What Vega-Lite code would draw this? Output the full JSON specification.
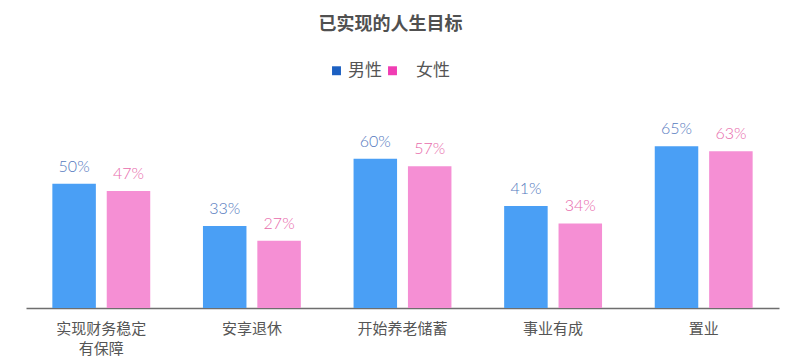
{
  "$schema": "https://vega.github.io/schema/vega-lite/v6.json",
  "autosize": "none",
  "width": 753,
  "height": 199,
  "padding": {"left": 26, "top": 109, "right": 21, "bottom": 51},
  "background": "white",
  "title": {
    "text": "已实现的人生目标",
    "anchor": "middle",
    "offset": 28,
    "dx": -12,
    "fontSize": 18,
    "font": "Noto Sans CJK SC",
    "fontWeight": "bold",
    "color": "#505050"
  },
  "data": {
    "values": [
      {"goal": "实现财务稳定\n有保障", "sex": "男性", "value": 0.50},
      {"goal": "实现财务稳定\n有保障", "sex": "女性", "value": 0.47},
      {"goal": "安享退休", "sex": "男性", "value": 0.33},
      {"goal": "安享退休", "sex": "女性", "value": 0.27},
      {"goal": "开始养老储蓄", "sex": "男性", "value": 0.60},
      {"goal": "开始养老储蓄", "sex": "女性", "value": 0.57},
      {"goal": "事业有成", "sex": "男性", "value": 0.41},
      {"goal": "事业有成", "sex": "女性", "value": 0.34},
      {"goal": "置业", "sex": "男性", "value": 0.65},
      {"goal": "置业", "sex": "女性", "value": 0.63}
    ]
  },
  "encoding": {
    "x": {
      "field": "goal",
      "type": "nominal",
      "sort": null,
      "scale": {"paddingInner": 0.35, "paddingOuter": 0.175},
      "axis": {
        "title": null,
        "labelAngle": 0,
        "ticks": false,
        "domainColor": "#6e6e6e",
        "domainWidth": 1.5,
        "labelFont": "Noto Sans CJK SC",
        "labelFontSize": 15,
        "labelColor": "#555555",
        "labelPadding": 13,
        "labelLineHeight": 20,
        "labelExpr": "split(datum.label, '\\n')"
      }
    },
    "xOffset": {
      "field": "sex",
      "type": "nominal",
      "sort": ["男性", "女性"],
      "scale": {"paddingInner": 0.2}
    },
    "y": {
      "field": "value",
      "type": "quantitative",
      "scale": {"domain": [0, 0.8]},
      "axis": null
    }
  },
  "layer": [
    {
      "mark": {"type": "bar"},
      "encoding": {
        "color": {
          "field": "sex",
          "type": "nominal",
          "sort": ["男性", "女性"],
          "scale": {"domain": ["男性", "女性"], "range": ["#4a9ff5", "#f58fd4"]},
          "legend": null
        }
      }
    },
    {
      "mark": {"type": "bar"},
      "encoding": {
        "y": {"datum": 0},
        "color": {
          "field": "sex",
          "type": "nominal",
          "sort": ["男性", "女性"],
          "scale": {"domain": ["男性", "女性"], "range": ["#1c60c2", "#f03db3"]},
          "legend": {
            "title": null,
            "orient": "none",
            "direction": "horizontal",
            "legendX": 302,
            "legendY": -47,
            "padding": 0,
            "symbolType": "square",
            "symbolSize": 80,
            "symbolStrokeWidth": 0,
            "labelFont": "Noto Sans CJK SC",
            "labelFontSize": 17,
            "labelColor": "#555555",
            "labelOffset": 3,
            "columnPadding": 2,
            "encode": {
              "labels": {
                "update": {
                  "dx": [{"test": "datum.value === '女性'", "value": 12}, {"value": 0}]
                }
              }
            }
          }
        }
      }
    },
    {
      "mark": {"type": "text", "baseline": "bottom", "dy": -9, "font": "Lato", "fontSize": 16, "fontWeight": 300},
      "encoding": {
        "text": {"field": "value", "type": "quantitative", "format": ".0%"},
        "color": {
          "field": "sex",
          "type": "nominal",
          "scale": {"domain": ["男性", "女性"], "range": ["#5479be", "#e86aab"]},
          "legend": null
        }
      }
    }
  ],
  "resolve": {"scale": {"color": "independent"}},
  "config": {"view": {"stroke": null}}
}
